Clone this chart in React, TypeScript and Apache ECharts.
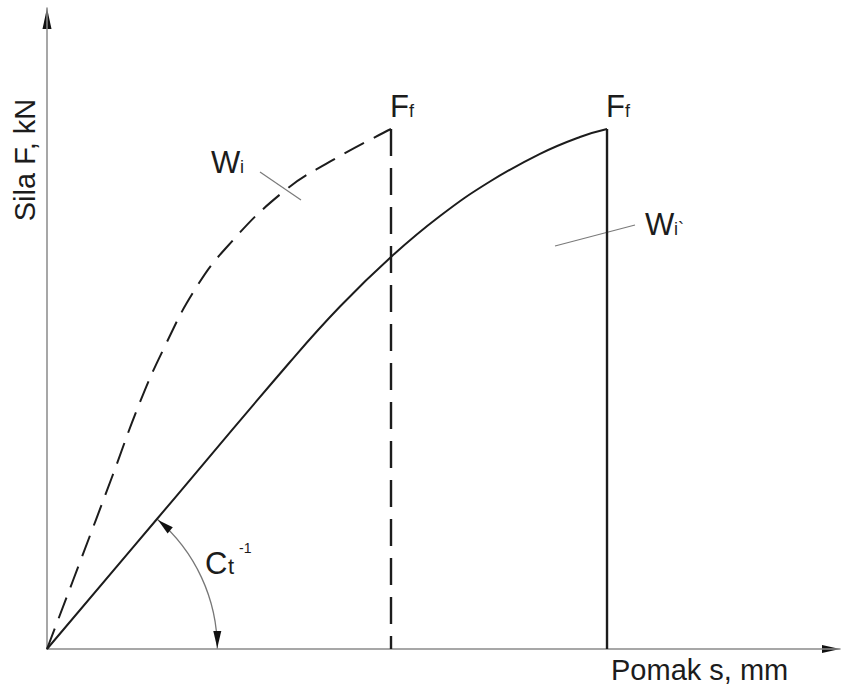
import React, { useEffect, useRef } from 'react';
import * as echarts from 'echarts';

// Solid curve (W_i`): displacement s vs force F (arbitrary units)
const solidX = [0, 13.87, 30.64, 36.95, 43.51, 49.56, 55.86, 62.17, 67.21, 70.62];
const solidY = [0, 20.28, 44.77, 53.43, 61.31, 67.55, 72.93, 77.25, 79.88, 81.12];
// Dashed curve (W_i)
const dashedX = [0, 4.16, 8.2, 11.73, 14.88, 18.54, 22.57, 29.76, 36.07, 43.38];
const dashedY = [0, 13.57, 26.83, 38.53, 47.27, 55.85, 62.56, 71.29, 76.29, 81.12];

const xAxisName = 'Pomak s, mm';
const yAxisName = 'Sila F, kN';
const xMax = 100;
const yMax = 100;

const FONT = '"Liberation Sans", Arial, Helvetica, sans-serif';
const INK = '#1c1c1c';
const GRAY = '#8a8a8a';

export default function App() {
  const ref = useRef<HTMLDivElement>(null);
  useEffect(() => {
    const el = ref.current!;
    const chart = echarts.init(el, null, { renderer: 'svg' });
    const zip = (xs: number[], ys: number[]) => xs.map((x, i) => [x, ys[i]]);
    const axisCommon = {
      type: 'value',
      min: 0,
      axisLine: { show: true, onZero: false, lineStyle: { color: GRAY, width: 1.5 } },
      axisTick: { show: false },
      axisLabel: { show: false },
      splitLine: { show: false },
    };
    const sLast = solidX.length - 1;
    const dLast = dashedX.length - 1;
    chart.setOption({
      animation: false,
      grid: { left: 47, right: 2, top: 8, bottom: 37 },
      xAxis: { ...axisCommon, max: xMax },
      yAxis: { ...axisCommon, max: yMax },
      series: [
        {
          type: 'line', data: zip(solidX, solidY), smooth: 0.45, showSymbol: false, symbol: 'none',
          lineStyle: { color: INK, width: 2 }, silent: true,
        },
        {
          type: 'line', data: [[solidX[sLast], solidY[sLast]], [solidX[sLast], 0]], showSymbol: false, symbol: 'none',
          lineStyle: { color: INK, width: 2.4 }, silent: true,
        },
        {
          type: 'line', data: zip(dashedX, dashedY), smooth: 0.45, showSymbol: false, symbol: 'none',
          lineStyle: { color: INK, width: 2, type: [22, 11] }, silent: true,
        },
        {
          type: 'line', data: [[dashedX[dLast], dashedY[dLast]], [dashedX[dLast], 0]], showSymbol: false, symbol: 'none',
          lineStyle: { color: INK, width: 2.4, type: [27, 12] }, silent: true,
        },
      ],
    });

    const px = (x: number, y: number) => chart.convertToPixel({ gridIndex: 0 }, [x, y]) as number[];
    const o = px(0, 0);
    const top = px(0, yMax);
    const right = px(xMax, 0);

    const txt = (text: string, x: number, baseline: number, fs: number) => ({
      type: 'text', x, y: baseline - 0.35 * fs, silent: true,
      style: { text, fontSize: fs, fontFamily: FONT, fill: INK, align: 'left', verticalAlign: 'middle' },
    });
    const tri = (tip: number[], d: number[], L: number, w: number) => {
      const b = [tip[0] - d[0] * L, tip[1] - d[1] * L];
      const n = [-d[1], d[0]];
      return {
        type: 'polygon', silent: true,
        shape: { points: [tip, [b[0] + n[0] * w, b[1] + n[1] * w], [b[0] - n[0] * w, b[1] - n[1] * w]] },
        style: { fill: '#111' },
      };
    };

    // arc for C_t^-1
    const a = px(solidX[1], solidY[1]);
    const r = Math.hypot(a[0] - o[0], a[1] - o[1]);
    const ang = Math.atan2(a[1] - o[1], a[0] - o[0]);
    const upDir = [Math.sin(ang), -Math.cos(ang)];
    const bottomTip = [o[0] + r, o[1] - 1];

    const f1 = px(dashedX[dLast], dashedY[dLast]);
    const f2 = px(solidX[sLast], solidY[sLast]);

    const graphic: any[] = [
      tri([top[0], top[1]], [0, -1], 21, 4.5),
      tri([right[0], right[1]], [1, 0], 18, 4),
      {
        type: 'arc', silent: true,
        shape: { cx: o[0], cy: o[1], r, startAngle: ang, endAngle: 0, clockwise: true },
        style: { stroke: '#777', lineWidth: 1.3, fill: 'none' },
      },
      tri([a[0] + 1, a[1] + 1], upDir, 16, 4),
      tri(bottomTip, [0, 1], 17, 4),
      // F_f labels
      txt('F', f1[0] - 1, f1[1] - 12, 31),
      txt('f', f1[0] + 18, f1[1] - 12, 18),
      txt('F', f2[0] - 1, f2[1] - 12, 31),
      txt('f', f2[0] + 18, f2[1] - 12, 18),
      // W_i
      txt('W', 211, 173, 31),
      txt('i', 240, 173, 18),
      { type: 'line', silent: true, shape: { x1: 260, y1: 172, x2: 301, y2: 200 }, style: { stroke: '#7a7a7a', lineWidth: 1.2 } },
      // W_i`
      txt('W', 645, 235, 31),
      txt('i`', 674, 235, 18),
      { type: 'line', silent: true, shape: { x1: 555, y1: 246, x2: 635, y2: 225 }, style: { stroke: '#7a7a7a', lineWidth: 1.2 } },
      // C_t^-1
      txt('C', 205, 574, 31),
      txt('t', 228, 574, 22),
      txt('-1', 239, 553, 14),
      // axis names
      txt(xAxisName, 611, 680, 29),
      {
        type: 'text', x: 25, y: 160, rotation: Math.PI / 2, silent: true,
        style: { text: yAxisName, fontSize: 29, fontFamily: FONT, fill: INK, align: 'center', verticalAlign: 'middle' },
      },
    ];
    chart.setOption({ graphic });
    return () => chart.dispose();
  }, []);
  return <div ref={ref} style={{ position: 'absolute', left: 0, top: 0, width: 842, height: 686, background: '#fff' }} />;
}
